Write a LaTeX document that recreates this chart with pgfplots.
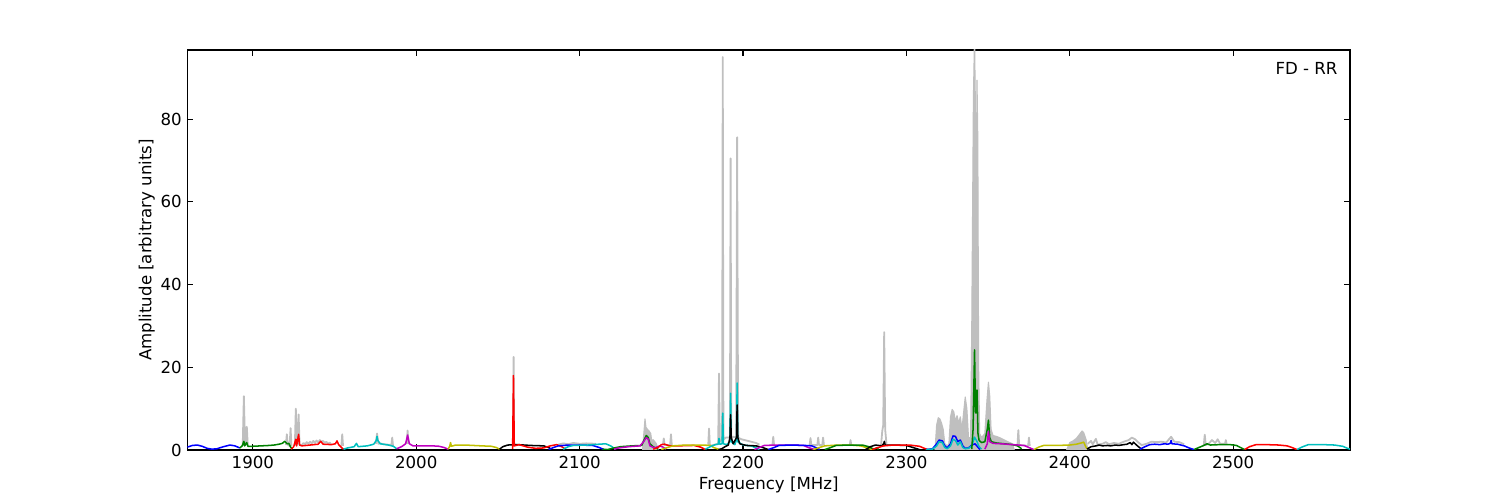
\documentclass[border=0pt]{standalone}
\usepackage{fontspec}
\setmainfont{DejaVu Sans}
\usepackage{pgfplots}
\pgfplotsset{compat=1.18}
\definecolor{mb}{RGB}{0,0,255}
\definecolor{mg}{RGB}{0,128,0}
\definecolor{mr}{RGB}{255,0,0}
\definecolor{mc}{RGB}{0,191,191}
\definecolor{mm}{RGB}{191,0,191}
\definecolor{my}{RGB}{191,191,0}
\definecolor{gr}{RGB}{191,191,191}
\begin{document}
\fontsize{12}{14}\selectfont
\begin{tikzpicture}
\useasboundingbox (-1.875in,-0.5in) rectangle (13.125in,4.5in);
\begin{axis}[
  at={(0,0)}, anchor=south west, scale only axis,
  width=11.625in, height=4in,
  xmin=1860, xmax=2571.5, ymin=0, ymax=96.7,
  xtick={1900,2000,2100,2200,2300,2400,2500},
  ytick={0,20,40,60,80},
  tick align=inside, major tick length=4pt,
  axis line style={line width=0.8pt},
  every tick/.style={black, line width=0.8pt},
  /pgf/number format/assume math mode=true,
  /pgf/number format/1000 sep={},
  tick label style={font=\fontsize{12}{14}\selectfont},
  label style={font=\fontsize{12}{14}\selectfont},
  xlabel={Frequency [MHz]},
  ylabel={Amplitude [arbitrary units]},
  xlabel style={yshift=2pt},
  ylabel style={yshift=-4pt},
  unbounded coords=jump,
  every axis plot/.append style={line join=round},
]
% raw spectrum (grey), line parts
\addplot[gr, line width=1.3pt] coordinates {
(1893.8,1)(1894.5,13)(1895.2,1.5)(1895.8,1.5)(1896.3,5.6)(1896.9,1)(1897,nan)
(1920.2,1.2)(1920.8,3.8)(1921.3,1.3)(1922.5,1)(1923.1,5.3)(1923.6,1)(1924,nan)
(1925.7,1)(1926.3,10)(1926.9,1.5)(1927.5,1.5)(1928,8.6)(1928.6,1.2)
(1930,1.2)(1931,1.7)(1932,1.4)(1933,1.9)(1934,1.5)(1935,2.0)(1936,1.6)(1937,2.2)(1938,1.7)(1939,2.3)(1940,1.8)(1941,2.4)(1942,1.9)(1943,2.2)(1944,1.7)(1945,2.0)(1946,1.5)(1947,1.8)(1948,1.3)(1949,nan)
(1954.2,1)(1954.7,3.8)(1955.2,1)(1955.5,nan)
(1975.3,1.5)(1976,4.0)(1976.8,1.5)(1978,1.6)(1980,1.4)(1984.8,1.2)(1985.3,3.0)(1985.8,1)(1986,nan)
(1994.2,1.5)(1994.7,4.7)(1995.3,1.5)(1996,nan)
(2059.3,1)(2059.6,22.5)(2059.9,1)(2060,nan)
(2087,1.3)(2090,1.6)(2093,1.4)(2096,1.7)(2100,1.5)(2104,1.6)(2110,1.5)(2111,nan)
(2151,1.2)(2151.5,2.8)(2152,1.2)(2155.4,1.2)(2155.9,3.8)(2156.4,1.2)(2157,nan)
(2178.7,1)(2179.2,5.2)(2179.7,1)(2184.8,1.5)(2185.3,18.5)(2185.8,2)(2186.5,2.5)(2187.2,2.5)(2187.6,95)(2188,2.5)(2189.5,3)(2191,3)(2192,3)(2192.4,70.5)(2192.8,3)(2194,3.2)(2195.8,3)(2196.4,75.6)(2197,3)(2199,2.6)(2202,2.3)(2205,2)(2208,1.7)(2210,1.3)(2211,nan)
(2218,1.2)(2218.5,3.2)(2219,1.2)(2220,nan)
(2240.8,1.2)(2241.3,2.9)(2241.8,1.2)(2245.5,1.2)(2246,3)(2246.5,1.2)(2248.5,1.2)(2249,3)(2249.5,1.2)(2250,nan)
(2265.3,1.1)(2265.8,2.4)(2266.3,1.1)(2267,nan)
(2284.5,1.2)(2285.2,4.5)(2285.8,6)(2286.4,28.5)(2287,5)(2287.8,1.5)(2288,nan)
(2368,1.2)(2368.5,4.8)(2369,1.2)(2374.5,1)(2375,3.0)(2375.5,1)(2376,nan)
(2411,1.5)(2413,2.2)(2414,1.4)(2416,2.7)(2417,1.3)(2420,1.5)(2422,1.9)(2424,1.4)(2427,1.7)(2430,1.5)(2433,2.0)(2436,2.4)(2438,3.0)(2440,2.6)(2442,1.8)(2444,1.2)
(2447,1.5)(2450,2.0)(2453,1.9)(2456,2.0)(2459,1.8)(2462,3.2)(2464,2.0)(2467,1.9)(2470,1.4)(2471,nan)
(2482,1.2)(2482.6,3.7)(2483.2,1.2)(2485,1.5)(2487,2.4)(2489,1.7)(2490.5,2.6)(2492,1.5)(2495,1.5)(2495.5,2.4)(2496,1.4)
};
% raw spectrum (grey), dense filled parts
\addplot[draw=gr, fill=gr, line width=0.8pt] coordinates {(2138.5,0)(2139.3,4)(2140,7.5)(2140.6,5.5)(2141.5,5.0)(2142.5,4.6)(2143.5,4.0)(2144.2,2)(2145,2.5)(2146,2.0)(2147,1.5)(2148,0)} \closedcycle;
\addplot[draw=gr, fill=gr, line width=0.8pt] coordinates {(2317.5,0)(2318.5,6)(2319.5,7.8)(2320.5,7.5)(2321.5,6.5)(2322.5,5)(2323.5,1.5)(2325,1)(2326,1.5)(2327,8)(2328,9.8)(2329,9.2)(2330,7)(2331,8.3)(2332,6.5)(2333,8)(2334,5)(2335,9)(2336,12.8)(2337,10)(2338,3)(2339.3,3)(2340,30)(2341,85)(2341.7,100)(2342.3,80)(2342.7,55)(2343.2,89.4)(2343.7,75)(2344.2,20)(2344.8,4)(2346,3)(2348,4)(2349.3,12)(2350.2,16.4)(2351,13)(2351.8,5)(2353,3.5)(2355,3.3)(2357,3.0)(2359,2.6)(2362,2.0)(2365,1.5)(2366,0)} \closedcycle;
\addplot[draw=gr, fill=gr, line width=0.8pt] coordinates {(2398,0)(2400,1.8)(2402,2.2)(2404,2.8)(2406,3.8)(2407.5,4.6)(2408.5,4.2)(2410,2.5)(2411,0)} \closedcycle;
% sub-band spectra
\addplot[mb, line width=1.1pt] coordinates {(1860,0.7)(1863,1.1)(1866,1.2)(1869,0.9)(1872,0.4)(1875,0.2)(1878,0.3)(1882,0.8)(1886,1.2)(1889,1.0)(1892,0.5)};
\addplot[mg, line width=1.1pt] coordinates {(1892,0.5)(1893.5,1.0)(1894.5,2.1)(1895,1.0)(1896.2,1.8)(1897,0.9)(1900,0.9)(1905,1.0)(1910,1.1)(1913,1.2)(1916,1.4)(1918,1.6)(1919.5,2.1)(1921,1.5)(1922,1.6)(1923,0.8)(1924,0.2)};
\addplot[mr, line width=1.1pt] coordinates {(1923.5,0.2)(1925,0.8)(1926.3,2.6)(1926.8,1.0)(1928,3.8)(1928.6,1.2)(1930,1.0)(1935,1.2)(1940,1.4)(1941.5,2.1)(1943,1.4)(1948,1.3)(1950.5,1.5)(1951.5,2.2)(1952.5,1.3)(1954.5,0.5)(1955.5,0.2)};
\addplot[mc, line width=1.1pt] coordinates {(1955.5,0.2)(1958,0.5)(1962,0.8)(1963.4,1.6)(1964.5,0.8)(1970,1.0)(1974,1.4)(1975.5,2.3)(1976,3.3)(1976.5,2.3)(1978,1.5)(1983,1.2)(1986,0.9)(1988,0.3)};
\addplot[mm, line width=1.1pt] coordinates {(1988,0.3)(1991,0.8)(1993.5,1.5)(1994.7,3.6)(1995.8,1.5)(1998,1.0)(2005,1.0)(2010,1.0)(2014,0.9)(2017,0.6)(2019.5,0.2)};
\addplot[my, line width=1.1pt] coordinates {(2019.5,0.2)(2020.5,0.9)(2021,1.8)(2021.5,0.9)(2024,1.2)(2030,1.2)(2040,1.0)(2046,0.9)(2049,0.6)(2051,0.2)};
\addplot[black, line width=1.1pt] coordinates {(2051,0.2)(2053,0.8)(2056,1.2)(2062,1.3)(2070,1.1)(2078,1.0)(2081,0.6)(2083,0.1)};
\addplot[mr, line width=1.1pt] coordinates {(2059,0.3)(2059.5,18)(2060,1.0)(2063,1.3)(2068,0.7)(2073,0.4)(2078,0.5)(2082,1.0)(2086,1.3)(2089,0.8)(2091,0.3)};
\addplot[mb, line width=1.1pt] coordinates {(2081,0.1)(2084,0.6)(2087,1.0)(2093,1.2)(2100,1.2)(2108,1.1)(2112,0.6)(2115,0.1)};
\addplot[mc, line width=1.1pt] coordinates {(2090,0.2)(2093,0.8)(2096,1.1)(2105,1.2)(2112,1.4)(2116,1.5)(2119,1.0)(2122,0.2)};
\addplot[mg, line width=1.1pt] coordinates {(2114,0.2)(2117,0.1)(2120,0.4)(2125,0.8)(2132,1.0)(2138,1.1)(2139.5,2.5)(2140.8,3.5)(2142,3.0)(2143,1.5)(2145,0.8)(2148,0.2)};
\addplot[mm, line width=1.1pt] coordinates {(2121,0.2)(2124,0.5)(2130,0.8)(2137,1.0)(2139.5,2.2)(2140.8,3.0)(2142,2.6)(2143,1.0)(2146,0.5)(2149,1.0)(2151,0.7)(2153,0.2)};
\addplot[mr, line width=1.1pt] coordinates {(2145,0.2)(2148,0.6)(2150,1.3)(2152,1.4)(2155,1.0)(2160,1.0)(2170,1.1)(2174,0.7)(2177,0.1)};
\addplot[my, line width=1.1pt] coordinates {(2150,0.1)(2153,0.5)(2157,1.0)(2165,1.2)(2175,1.2)(2180,1.1)(2182,0.6)(2185,0.2)};
\addplot[mc, line width=1.1pt] coordinates {(2177,0.2)(2180,0.8)(2183,1.3)(2184.8,1.4)(2185.3,2.8)(2185.8,1.4)(2187.2,1.5)(2187.6,8.9)(2188,1.5)(2190,1.3)(2192,2)(2192.4,13.7)(2192.8,2)(2195,1.3)(2196,2.5)(2196.4,16.2)(2196.8,2)(2200,1.2)(2205,1.0)(2208,0.5)(2210,0.1)};
\addplot[black, line width=1.1pt] coordinates {(2185,0.1)(2187,0.3)(2189,0.8)(2191,1.2)(2192,3)(2192.4,8.5)(2192.8,3)(2194,1.5)(2196,3)(2196.4,10.9)(2196.8,3)(2198,1.5)(2202,1.1)(2208,1.0)(2212,0.6)(2215.5,0.1)};
\addplot[mm, line width=1.1pt] coordinates {(2207,0.1)(2210,0.6)(2213,1.1)(2220,1.2)(2230,1.2)(2237,1.1)(2240,0.6)(2244,0.1)};
\addplot[mb, line width=1.1pt] coordinates {(2215.5,0.1)(2219,0.6)(2222,1.1)(2230,1.2)(2238,1.1)(2242,1.0)(2244.5,0.6)(2247,0.1)};
\addplot[my, line width=1.1pt] coordinates {(2243,0.1)(2246,0.5)(2250,1.0)(2258,1.2)(2266,1.2)(2272,1.0)(2276,0.5)(2279,0.1)};
\addplot[mg, line width=1.1pt] coordinates {(2250,0.1)(2253,0.5)(2257,1.1)(2265,1.2)(2273,1.2)(2277,0.8)(2280,0.2)(2282,0.5)(2283,0.1)};
\addplot[black, line width=1.1pt] coordinates {(2275,0.1)(2278,0.8)(2281,1.2)(2285,1.0)(2286.2,1.6)(2286.5,2.1)(2287,1.2)(2292,1.2)(2300,1.1)(2304,0.6)(2308,0.1)};
\addplot[mr, line width=1.1pt] coordinates {(2279,0.1)(2282,0.5)(2286,1.0)(2292,1.2)(2302,1.2)(2308,0.9)(2311,0.4)(2313,0.1)};
\addplot[mb, line width=1.1pt] coordinates {(2312,0.1)(2316,0.3)(2318.5,1.5)(2320,2.4)(2322,2.2)(2323.5,1.0)(2325,0.5)(2327,1.5)(2328.5,3.4)(2330,3.3)(2331.5,2.0)(2333,2.4)(2334.5,1.0)(2336,0.4)(2338,0.5)(2340,1.2)(2342,1.5)(2343.5,0.8)(2345,0.1)};
\addplot[mc, line width=1.1pt] coordinates {(2312,0.1)(2316,0.2)(2318.5,1.0)(2320,2.0)(2322,1.8)(2323.5,0.6)(2325,0.3)(2327,1.0)(2328.5,2.6)(2330,2.3)(2331.5,1.2)(2333,2.0)(2334.5,0.6)(2336,0.3)(2338,0.4)(2340,1.0)(2341.7,3.1)(2343,2.2)(2344.5,0.8)(2346,0.2)};
\addplot[mg, line width=1.1pt] coordinates {(2340,0.2)(2340.8,5)(2341.7,24.2)(2342.3,9)(2342.8,9)(2343.2,14.5)(2343.8,4)(2344.5,2.3)(2346,1.8)(2348,2.0)(2349.5,5)(2350.2,7.2)(2351,3)(2352,2.0)(2355,1.7)(2360,1.5)(2365,1.3)(2368,1.0)(2370.5,0.3)};
\addplot[mm, line width=1.1pt] coordinates {(2348,0.2)(2349.5,1.5)(2350.2,4.5)(2351,2.0)(2353,1.6)(2358,1.5)(2365,1.3)(2372,1.1)(2375,0.6)(2378,0.1)};
\addplot[my, line width=1.1pt] coordinates {(2378,0.1)(2381,0.7)(2384,1.1)(2392,1.1)(2400,1.2)(2404,1.4)(2407,1.7)(2408.5,1.9)(2410,0.6)(2411,0.2)};
\addplot[black, line width=1.1pt] coordinates {(2410.5,0.2)(2413,0.8)(2416,1.0)(2418,1.2)(2420,1.0)(2423,1.1)(2425,1.0)(2428,1.2)(2430,1.1)(2433,1.3)(2435,1.4)(2437,1.8)(2438,1.3)(2439,1.9)(2440,1.5)(2442,0.8)(2444,0.2)};
\addplot[mb, line width=1.1pt] coordinates {(2443,0.2)(2446,0.8)(2449,1.3)(2452,1.4)(2455,1.3)(2458,1.5)(2460,1.4)(2461.5,1.6)(2462,2.3)(2462.5,1.5)(2466,1.4)(2470,1.0)(2473,0.5)(2476,0.1)};
\addplot[mg, line width=1.1pt] coordinates {(2476,0.1)(2479,0.6)(2482,1.1)(2484,1.5)(2486,1.2)(2492,1.3)(2498,1.3)(2502,1.1)(2505,0.5)(2507,0.1)};
\addplot[mr, line width=1.1pt] coordinates {(2507,0.1)(2510,0.8)(2514,1.3)(2520,1.3)(2528,1.2)(2533,1.0)(2536,0.6)(2539,0.1)};
\addplot[mc, line width=1.1pt] coordinates {(2539,0.1)(2542,0.7)(2546,1.3)(2555,1.3)(2562,1.2)(2567,0.9)(2570,0.4)(2571.5,0.2)};
\node[anchor=north east, inner sep=0pt, font=\fontsize{12}{14}\selectfont] at (rel axis cs:0.9895,0.969) {FD - RR};
\end{axis}
\end{tikzpicture}
\end{document}
